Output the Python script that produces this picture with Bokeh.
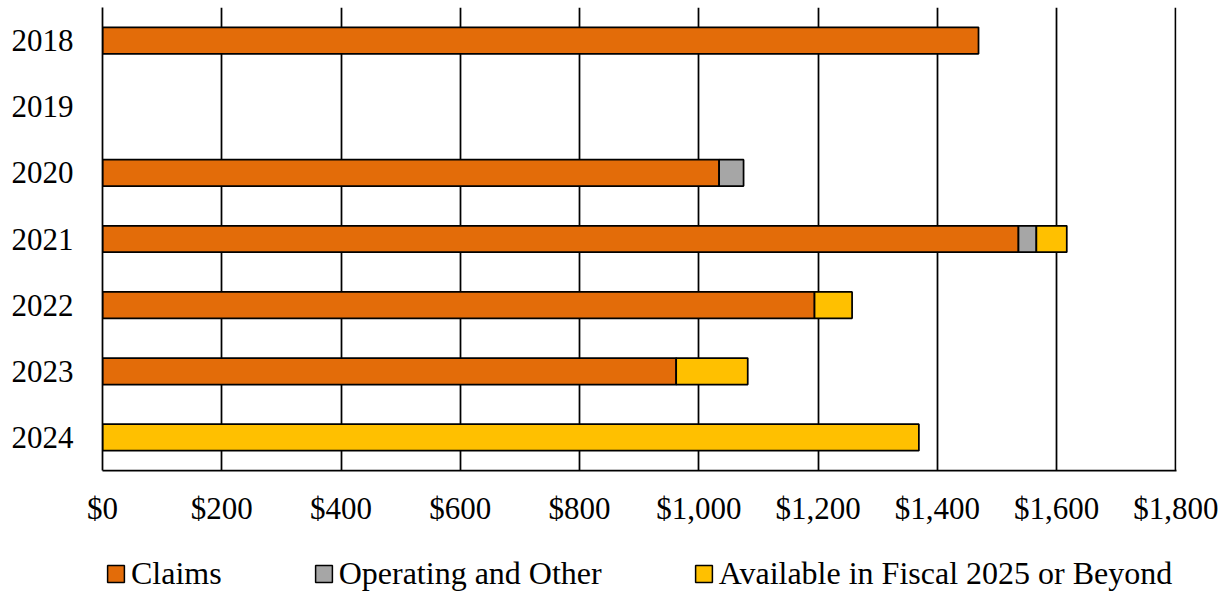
from bokeh.plotting import figure
from bokeh.layouts import column
from bokeh.models import (Legend, LegendItem, NumeralTickFormatter, FixedTicker, Range1d,
                          ColumnDataSource, CDSView, BooleanFilter)
from bokeh.transform import stack
from bokeh.embed import file_html
from bokeh.resources import INLINE

# Fiscal years (top to bottom) and dollar amounts by use
years = ["2018", "2019", "2020", "2021", "2022", "2023", "2024"]
claims = [1469, 0, 1034, 1536, 1194, 962, 0]
operating = [0, 0, 41, 30, 0, 0, 0]
available = [0, 0, 0, 51, 63, 120, 1369]
series = ["Claims", "Operating and Other", "Available in Fiscal 2025 or Beyond"]
colors = ["#E36C09", "#A6A6A6", "#FFC000"]
x_ticks = [0, 200, 400, 600, 800, 1000, 1200, 1400, 1600, 1800]

FONT = "Liberation Serif"
keys = ["Claims", "Operating", "Available"]
values = [claims, operating, available]

source = ColumnDataSource({"year": years, **dict(zip(keys, values))})

p = figure(
    width=1229, height=533,
    y_range=list(reversed(years)),
    x_range=Range1d(0, 1801),
    output_backend="svg", toolbar_location=None,
    min_border_left=102, min_border_right=53, min_border_top=7, min_border_bottom=63,
)
p.y_range.range_padding = 0

# stacked segments; empty segments are filtered out so no zero-width outlines show
for i, (key, vals, color) in enumerate(zip(keys, values, colors)):
    view = CDSView(filter=BooleanFilter(booleans=[v > 0 for v in vals]))
    p.hbar(y="year", left=stack(*keys[:i]) if i else 0, right=stack(*keys[:i + 1]),
           height=0.4, source=source, view=view,
           fill_color=color, line_color="black", line_width=1.75)

p.outline_line_color = None
p.ygrid.grid_line_color = None
p.xgrid.grid_line_color = "black"
p.xgrid.grid_line_width = 1.75
p.xaxis.ticker = FixedTicker(ticks=x_ticks)
p.xaxis.formatter = NumeralTickFormatter(format="$0,0")

for ax in (p.xaxis, p.yaxis):
    ax.axis_line_color = "black"
    ax.axis_line_width = 1.75
    ax.major_tick_line_color = None
    ax.minor_tick_line_color = None
    ax.major_tick_out = 0
    ax.major_label_text_font = FONT
    ax.major_label_text_font_size = "31px"
    ax.major_label_text_color = "black"

p.xaxis.major_label_standoff = 20
p.yaxis.major_label_standoff = 29

# legend strip under the chart; swatch renderers hold a NaN row so only the key is drawn
lg = figure(
    width=1229, height=60, x_range=Range1d(0, 1), y_range=Range1d(0, 1),
    output_backend="svg", toolbar_location=None,
    min_border_left=0, min_border_right=0, min_border_top=0, min_border_bottom=0,
)
lg.axis.visible = False
lg.grid.visible = False
lg.outline_line_color = None
nan = float("nan")
swatches = [
    lg.hbar(y=[nan], left=[nan], right=[nan], height=0.4,
            fill_color=c, line_color="black", line_width=1.5)
    for c in colors
]
legend = Legend(
    items=[LegendItem(label=name, renderers=[r]) for name, r in zip(series, swatches)],
    orientation="horizontal", location=(3, 1),
    label_text_font=FONT, label_text_font_size="32px", label_text_color="black",
    glyph_width=21, glyph_height=21, label_standoff=5, spacing=91,
    padding=0, margin=0, border_line_color=None, background_fill_alpha=0,
)
lg.add_layout(legend, "center")

layout = column(p, lg, spacing=0)
open("out.html", "w").write(file_html(layout, INLINE))
